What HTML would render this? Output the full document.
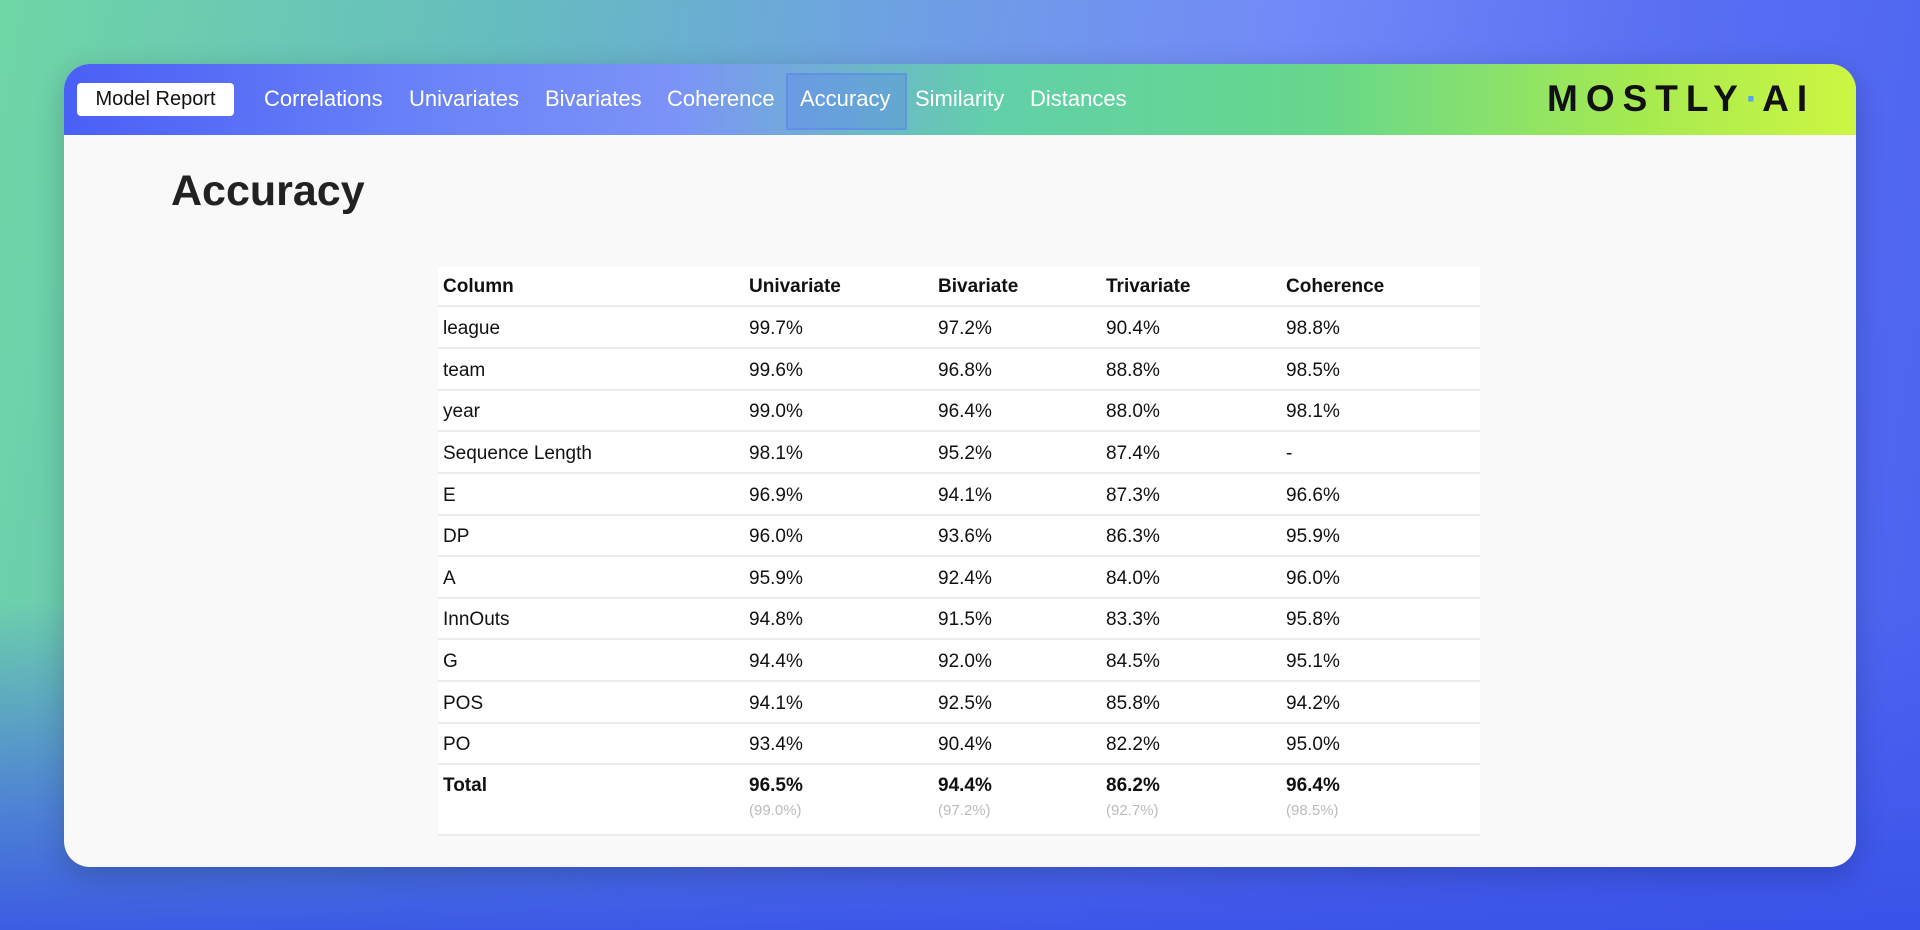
<!DOCTYPE html>
<html><head><meta charset="utf-8"><style>
*{margin:0;padding:0;box-sizing:border-box}
body{width:1920px;height:930px;overflow:hidden;position:relative;font-family:"Liberation Sans",sans-serif;
background:linear-gradient(100deg,#6fd6a6 0%,#66bcc0 25%,#6f9ee6 45%,#7289f8 62%,#5a6ff2 80%,#4a62f0 100%);}
.bot{position:absolute;left:0;top:600px;width:1920px;height:330px;background:linear-gradient(180deg,rgba(60,80,235,0) 0%,rgba(60,85,235,.6) 60%,rgba(55,80,232,.9) 100%)}
.card{position:absolute;left:64px;top:64px;width:1792px;height:803px;border-radius:26px;background:#f9f9f9;overflow:hidden;box-shadow:0 8px 30px rgba(0,0,0,.2)}
.hdr{position:absolute;left:0;top:0;width:100%;height:71px;background:linear-gradient(90deg,#4a5ff6 0%,#6a82f8 20%,#7c93f8 34%,#62d0a8 52%,#66d78c 70%,#a6ea50 88%,#cdf642 100%)}
.pill{position:absolute;left:13px;top:19px;width:157px;height:33px;background:#fff;border-radius:4px;font-size:20px;color:#111;line-height:33px;text-align:center}
.nav{position:absolute;top:19px;font-size:22px;color:#fff;line-height:32px}
.hl{position:absolute;left:722px;top:9px;width:121px;height:57px;background:rgba(90,130,240,.35);border:2px solid rgba(90,130,240,.5)}
.logo{position:absolute;left:1483px;top:13px;font-size:37px;font-weight:bold;letter-spacing:8px;color:#111;line-height:44px}
.title{position:absolute;left:107px;top:103px;font-size:43px;font-weight:bold;color:#222}
.tbl{position:absolute;left:374px;top:203px;width:1042px;height:569px;background:#fff}
.r{position:absolute;left:0;width:1042px;border-bottom:2px solid #ececec;font-size:19px;color:#111}
.r span{position:absolute;top:0}
.b{font-weight:bold}
.sub{color:#bbb;font-size:15px}
</style></head><body>
<div class="bot"></div>
<div class="card">
<div class="hdr">
<div class="hl"></div>
<div class="pill">Model Report</div>
<div class="nav" style="left:200px">Correlations</div>
<div class="nav" style="left:345px">Univariates</div>
<div class="nav" style="left:481px">Bivariates</div>
<div class="nav" style="left:603px">Coherence</div>
<div class="nav" style="left:736px">Accuracy</div>
<div class="nav" style="left:851px">Similarity</div>
<div class="nav" style="left:966px">Distances</div>
<div class="logo">MOSTLY<span style="color:#5aa0f0;letter-spacing:4px">·</span>AI</div>
</div>
<div class="title">Accuracy</div>
<div class="tbl" id="t"></div>
</div>
<script>
var rows=[["league","99.7%","97.2%","90.4%","98.8%"],["team","99.6%","96.8%","88.8%","98.5%"],["year","99.0%","96.4%","88.0%","98.1%"],["Sequence Length","98.1%","95.2%","87.4%","-"],["E","96.9%","94.1%","87.3%","96.6%"],["DP","96.0%","93.6%","86.3%","95.9%"],["A","95.9%","92.4%","84.0%","96.0%"],["InnOuts","94.8%","91.5%","83.3%","95.8%"],["G","94.4%","92.0%","84.5%","95.1%"],["POS","94.1%","92.5%","85.8%","94.2%"],["PO","93.4%","90.4%","82.2%","95.0%"]];
var xs=[5,311,500,668,848],h='';
function row(top,ht,c,cls,lh){var s='<div class="r '+cls+'" style="top:'+top+'px;height:'+ht+'px">';for(var i=0;i<5;i++)s+='<span style="left:'+xs[i]+'px;top:'+lh+'px">'+c[i]+'</span>';return s+'</div>';}
h+=row(0,40,["Column","Univariate","Bivariate","Trivariate","Coherence"],'b',9);
for(var i=0;i<11;i++){h+=row(Math.round(40+41.63*i),42,rows[i],'',11);}
var s='<div class="r" style="top:498px;height:71px">';
var tot=["Total","96.5%","94.4%","86.2%","96.4%"],sub=["","(99.0%)","(97.2%)","(92.7%)","(98.5%)"];
for(var i=0;i<5;i++)s+='<span class="b" style="left:'+xs[i]+'px;top:10px">'+tot[i]+'</span><span class="sub" style="left:'+xs[i]+'px;top:37px">'+sub[i]+'</span>';
h+=s+'</div>';
document.getElementById('t').innerHTML=h;
</script>
</body></html>
